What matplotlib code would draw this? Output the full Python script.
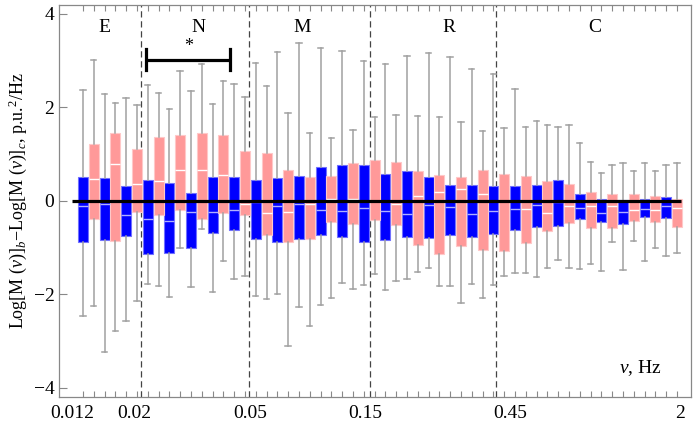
import matplotlib
matplotlib.use("Agg")
import matplotlib.pyplot as plt
import numpy as np

plt.rcParams["font.family"] = ["Liberation Serif", "DejaVu Serif"]
plt.rcParams["mathtext.fontset"] = "custom"
plt.rcParams["mathtext.rm"] = "Liberation Serif"
plt.rcParams["mathtext.it"] = "Liberation Serif:italic"

# box stats per frequency bin: upper whisker, q3, median, q1, lower whisker
blue_hi = [2.37, 2.28, 2.19, 2.48, 1.96, 2.35, 2.07, 2.50, 2.96, 3.19, 3.38, 3.28, 3.20, 2.99,
           2.92, 3.09, 3.17, 3.07, 2.82, 2.72, 2.40, 1.70, 1.58, 1.23, 0.60, 0.81, 0.82, 0.76]
blue_q3 = [0.51, 0.48, 0.31, 0.44, 0.38, 0.16, 0.51, 0.51, 0.45, 0.48, 0.54, 0.73, 0.76, 0.76,
           0.57, 0.63, 0.50, 0.34, 0.34, 0.32, 0.32, 0.34, 0.44, 0.14, 0.04, 0.02, 0.04, 0.09]
blue_med = [-0.12, -0.06, -0.30, -0.39, -0.44, -0.24, -0.24, -0.19, -0.02, -0.12, -0.06, -0.20,
            -0.21, -0.15, -0.22, -0.29, -0.09, -0.13, -0.28, -0.22, -0.17, -0.09, -0.02, -0.15,
            -0.27, -0.23, -0.17, -0.12]
blue_q1 = [-0.88, -0.83, -0.76, -1.14, -1.12, -1.01, -0.69, -0.63, -0.82, -0.89, -0.82, -0.73,
           -0.78, -0.88, -0.84, -0.78, -0.80, -0.73, -0.78, -0.70, -0.63, -0.55, -0.54, -0.39,
           -0.46, -0.50, -0.34, -0.37]
blue_lo = [-2.46, -3.24, -2.57, -1.78, -2.05, -1.85, -1.95, -1.67, -2.03, -1.99, -2.28, -2.23,
           -1.75, -1.81, -1.90, -1.67, -1.43, -1.83, -1.78, -1.80, -1.55, -1.62, -1.26, -1.46,
           -1.50, -1.48, -1.29, -1.19]

pink_hi = [3.02, 2.09, 2.05, 2.30, 2.77, 2.93, 2.56, 2.22, 2.45, 1.89, 1.46, 1.34, 1.52, 1.79,
           1.83, 1.82, 1.80, 1.68, 1.50, 1.55, 1.59, 1.62, 1.63, 0.83, 0.76, 0.63, 0.63, 0.81]
pink_q3 = [1.22, 1.46, 1.11, 1.36, 1.41, 1.45, 1.41, 1.07, 1.03, 0.65, 0.50, 0.53, 0.81, 0.88,
           0.83, 0.63, 0.55, 0.50, 0.66, 0.58, 0.53, 0.43, 0.37, 0.19, 0.14, 0.14, 0.11, 0.04]
pink_med = [0.47, 0.78, 0.36, 0.43, 0.66, 0.66, 0.55, -0.06, -0.25, -0.24, -0.07, 0.04, 0.05,
            0.00, -0.07, 0.11, 0.19, 0.25, 0.14, 0.00, -0.17, -0.26, -0.10, -0.11, -0.12,
            -0.20, -0.20, -0.16]
pink_q1 = [-0.38, -0.85, -0.24, -0.30, -0.19, -0.38, -0.26, -0.30, -0.74, -0.87, -0.82, -0.46,
           -0.50, -0.41, -0.51, -0.95, -1.13, -0.97, -1.06, -1.08, -0.91, -0.64, -0.48, -0.57,
           -0.57, -0.44, -0.46, -0.56]
pink_lo = [-2.25, -2.79, -2.15, -1.82, -1.01, -0.60, -1.28, -1.60, -2.09, -3.10, -2.67, -2.07,
           -1.88, -1.57, -1.72, -1.53, -1.83, -2.19, -2.08, -1.60, -1.55, -1.43, -1.43, -1.35,
           -0.88, -0.85, -1.01, -1.11]

# frequency tick labels and band boundaries (in box-index units)
tick_pos = [-1.0, 4.8, 15.45, 26.1, 39.6, 55.3]
tick_labels = ["0.012", "0.02", "0.05", "0.15", "0.45", "2"]
band_edges = [5.4, 15.35, 26.55, 38.25]
band_names = ["E", "N", "M", "R", "C"]
band_label_x = [1.98, 10.65, 20.3, 33.9, 47.4]


def stats(hi, q3, med, q1, lo):
    return [dict(whishi=a, q3=b, med=c, q1=d, whislo=e, fliers=[])
            for a, b, c, d, e in zip(hi, q3, med, q1, lo)]


fig = plt.figure(figsize=(6.95, 4.32), dpi=100)
ax = fig.add_axes([0.0853, 0.0817, 0.9085, 0.9067])

n = len(blue_hi)
pos_blue = np.arange(n) * 2
pos_pink = np.arange(n) * 2 + 1
wcol = "#a0a0a0"

for st, pos, face, edge, medc in [
    (stats(blue_hi, blue_q3, blue_med, blue_q1, blue_lo), pos_blue, "#0000ff", "#7070ff", "#b0b0ff"),
    (stats(pink_hi, pink_q3, pink_med, pink_q1, pink_lo), pos_pink, "#ff9999", "#ffc8c8", "#ffffff"),
]:
    ax.bxp(st, positions=pos, widths=0.92, patch_artist=True, showfliers=False,
           manage_ticks=False, capwidths=0.5,
           boxprops=dict(facecolor=face, edgecolor=edge, linewidth=0.8),
           medianprops=dict(color=medc, linewidth=1.0),
           whiskerprops=dict(color=wcol, linewidth=1.1),
           capprops=dict(color=wcol, linewidth=1.1))

ax.plot([-1.05, 55.35], [0, 0], color="black", lw=2.3, zorder=5, solid_capstyle="butt")

for xe in band_edges:
    ax.axvline(xe, color="#444444", lw=0.9, ls=(0, (5, 3)), zorder=1)

for xl, name in zip(band_label_x, band_names):
    ax.text(xl, 3.70, name, ha="center", va="center", fontsize=14)

# significance bar over N band
ax.plot([5.85, 13.65], [3.02, 3.02], color="black", lw=2.3, solid_capstyle="butt")
ax.plot([5.85, 5.85], [2.8, 3.24], color="black", lw=2.3)
ax.plot([13.65, 13.65], [2.8, 3.24], color="black", lw=2.3)
ax.text(9.75, 3.12, "*", ha="center", va="bottom", fontsize=13)

ax.text(53.6, -3.57, r"$\nu$, Hz", ha="right", va="center", fontsize=14)

ax.set_xlim(-2.19, 56.27)
ax.set_ylim(-4.19, 4.19)
ax.set_xticks(tick_pos)
ax.set_xticklabels(tick_labels, fontsize=14)
ax.set_xticks(np.arange(2 * n), minor=True)
ax.tick_params(axis="x", which="major", length=0, pad=6)
ax.tick_params(axis="x", which="minor", direction="in", length=4, top=True,
               color="#888888", width=0.8)
ax.set_yticks([-4, -2, 0, 2, 4])
ax.set_yticklabels(["\u22124", "\u22122", "0", "2", "4"], fontsize=14)
ax.tick_params(axis="y", direction="in", length=6, color="#888888", width=0.8)

for sp in ax.spines.values():
    sp.set_color("#888888")
    sp.set_linewidth(0.9)

ax.set_ylabel(r"Log[M ($\nu$)]$_b$$-$Log[M ($\nu$)]$_c$, p.u.$^2$/Hz", fontsize=13, labelpad=3)

fig.savefig("out.png", dpi=100)
